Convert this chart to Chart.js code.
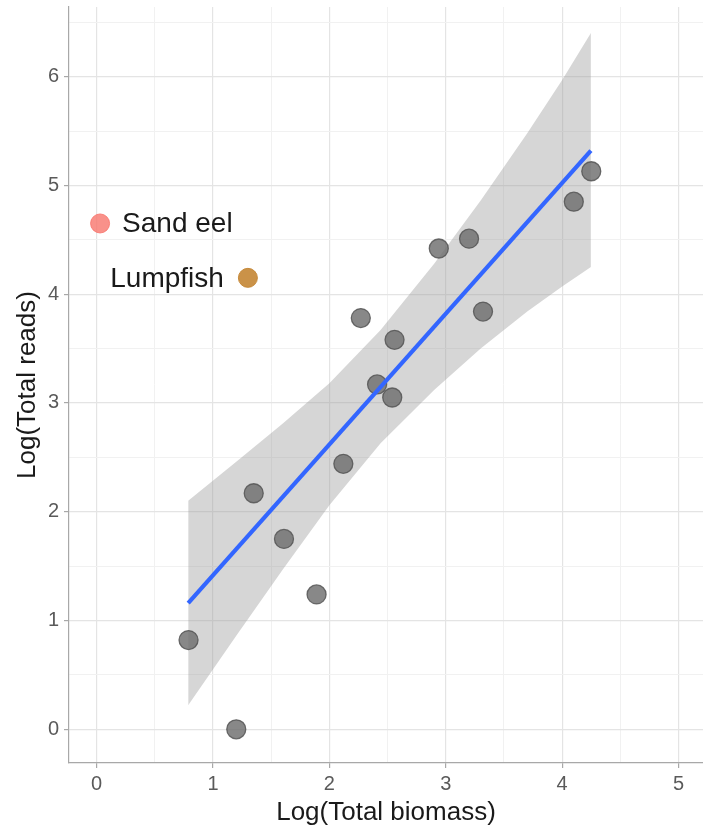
<!DOCTYPE html>
<html>
<head>
<meta charset="utf-8">
<style>
  html, body { margin: 0; padding: 0; background: #ffffff; }
  #wrap { width: 703px; height: 828px; position: relative; }
</style>
<script src="https://cdn.jsdelivr.net/npm/chart.js@4/dist/chart.umd.min.js"></script>
</head>
<body>
<div id="wrap"><canvas id="c" width="703" height="828"></canvas></div>
<script>
// ---- data ----
const biomass = [0.79, 1.20, 1.35, 1.61, 1.89, 2.12, 2.27, 2.41, 2.54, 2.56, 2.94, 3.20, 3.32, 4.10, 4.25];
const reads   = [0.82, 0.00, 2.17, 1.75, 1.24, 2.44, 3.78, 3.17, 3.05, 3.58, 4.42, 4.51, 3.84, 4.85, 5.13];

const fitX = [0.787, 4.247];
const fitY = [1.16, 5.32];

const bandX     = [0.787, 1.2, 1.6, 2.0, 2.44, 2.9, 3.3, 3.7, 4.0, 4.247];
const bandUpper = [2.10, 2.46, 2.81, 3.18, 3.67, 4.28, 4.86, 5.48, 5.97, 6.40];
const bandLower = [0.22, 0.86, 1.47, 2.06, 2.63, 3.12, 3.50, 3.84, 4.07, 4.25];

const speciesNames = ['Sand eel', 'Lumpfish'];
const speciesX     = [0.03, 1.30];
const speciesY     = [4.65, 4.15];

const xTickValues = [0, 0.5, 1, 1.5, 2, 2.5, 3, 3.5, 4, 4.5, 5];
const yTickValues = [0, 0.5, 1, 1.5, 2, 2.5, 3, 3.5, 4, 4.5, 5, 5.5, 6, 6.5];
const xRange = [-0.237, 5.21];
const yRange = [-0.31, 6.64];

const xTitle = 'Log(Total biomass)';
const yTitle = 'Log(Total reads)';

// ---- build library structures ----
const pts = biomass.map((x, i) => ({ x: x, y: reads[i] }));
const fitPts = fitX.map((x, i) => ({ x: x, y: fitY[i] }));
const upPts = bandX.map((x, i) => ({ x: x, y: bandUpper[i] }));
const loPts = bandX.map((x, i) => ({ x: x, y: bandLower[i] }));
const specPts = speciesX.map((x, i) => ({ x: x, y: speciesY[i] }));

const isMajor = v => Math.abs(v - Math.round(v)) < 1e-9;

const labelPlugin = {
  id: 'speciesLabels',
  afterDatasetsDraw(chart) {
    const ctx = chart.ctx;
    const xs = chart.scales.x, ys = chart.scales.y;
    ctx.save();
    ctx.font = '28px "Liberation Sans", Arial, sans-serif';
    ctx.fillStyle = '#1a1a1a';
    ctx.textBaseline = 'middle';
    let px = xs.getPixelForValue(speciesX[0]);
    let py = ys.getPixelForValue(speciesY[0]);
    ctx.textAlign = 'left';
    ctx.fillText(speciesNames[0], px + 22, py + 1);
    px = xs.getPixelForValue(speciesX[1]);
    py = ys.getPixelForValue(speciesY[1]);
    ctx.textAlign = 'right';
    ctx.fillText(speciesNames[1], px - 24, py + 1);
    ctx.restore();
  }
};

const gridOpts = {
  color: c => (c.tick && isMajor(c.tick.value)) ? '#e4e4e4' : '#f1f1f1',
  lineWidth: c => (c.tick && isMajor(c.tick.value)) ? 1.2 : 1,
  tickColor: c => (c.tick && isMajor(c.tick.value)) ? '#a8a8a8' : 'rgba(0,0,0,0)',
  tickLength: 5,
  drawTicks: true
};

new Chart(document.getElementById('c'), {
  type: 'scatter',
  data: {
    datasets: [
      {
        label: 'upper',
        data: upPts,
        showLine: true,
        borderWidth: 0,
        borderColor: 'rgba(0,0,0,0)',
        pointRadius: 0,
        backgroundColor: 'rgba(153,153,153,0.4)',
        fill: '+1',
        order: 4
      },
      {
        label: 'lower',
        data: loPts,
        showLine: true,
        borderWidth: 0,
        borderColor: 'rgba(0,0,0,0)',
        pointRadius: 0,
        fill: false,
        order: 4
      },
      {
        label: 'points',
        data: pts,
        pointRadius: 9.5,
        pointBackgroundColor: 'rgba(110,110,110,0.82)',
        pointBorderColor: 'rgba(85,85,85,0.85)',
        pointBorderWidth: 1.3,
        showLine: false,
        order: 2
      },
      {
        label: 'fit',
        data: fitPts,
        showLine: true,
        borderColor: '#3366FF',
        borderWidth: 4.2,
        pointRadius: 0,
        fill: false,
        order: 1
      },
      {
        label: 'species',
        data: specPts,
        pointRadius: 9.5,
        pointBackgroundColor: ['rgba(248,118,109,0.8)', 'rgba(196,134,52,0.9)'],
        pointBorderColor: ['rgba(248,118,109,0.85)', 'rgba(196,134,52,0.95)'],
        pointBorderWidth: 1,
        showLine: false,
        order: 0
      }
    ]
  },
  options: {
    responsive: false,
    animation: false,
    layout: { autoPadding: false, padding: { top: 7, right: 0, left: 0, bottom: 0 } },
    plugins: {
      legend: { display: false },
      tooltip: { enabled: false }
    },
    scales: {
      x: {
        type: 'linear',
        min: xRange[0],
        max: xRange[1],
        afterBuildTicks: s => { s.ticks = xTickValues.map(v => ({ value: v })); },
        afterFit: s => { s.height = 65; s.paddingLeft = 0; s.paddingRight = 0; },
        ticks: {
          autoSkip: false,
          maxRotation: 0,
          padding: 4,
          color: '#5a5a5a',
          font: { family: '"Liberation Sans", Arial, sans-serif', size: 20 },
          callback: v => isMajor(v) ? String(Math.round(v)) : ''
        },
        grid: gridOpts,
        border: { display: true, color: '#a8a8a8', width: 1.2 },
        title: {
          display: true,
          text: xTitle,
          color: '#1a1a1a',
          font: { family: '"Liberation Sans", Arial, sans-serif', size: 26 },
          padding: { top: 0, bottom: 0 }
        }
      },
      y: {
        type: 'linear',
        min: yRange[0],
        max: yRange[1],
        afterBuildTicks: s => { s.ticks = yTickValues.map(v => ({ value: v })); },
        afterFit: s => { s.width = 69; s.paddingTop = 0; s.paddingBottom = 0; },
        ticks: {
          autoSkip: false,
          padding: 5,
          color: '#5a5a5a',
          font: { family: '"Liberation Sans", Arial, sans-serif', size: 20 },
          callback: v => isMajor(v) ? String(Math.round(v)) : ''
        },
        grid: gridOpts,
        border: { display: true, color: '#a8a8a8', width: 1.2 },
        title: {
          display: true,
          text: yTitle,
          color: '#1a1a1a',
          font: { family: '"Liberation Sans", Arial, sans-serif', size: 26 },
          padding: { top: 12, bottom: 0 }
        }
      }
    }
  },
  plugins: [labelPlugin]
});
</script>
</body>
</html>
